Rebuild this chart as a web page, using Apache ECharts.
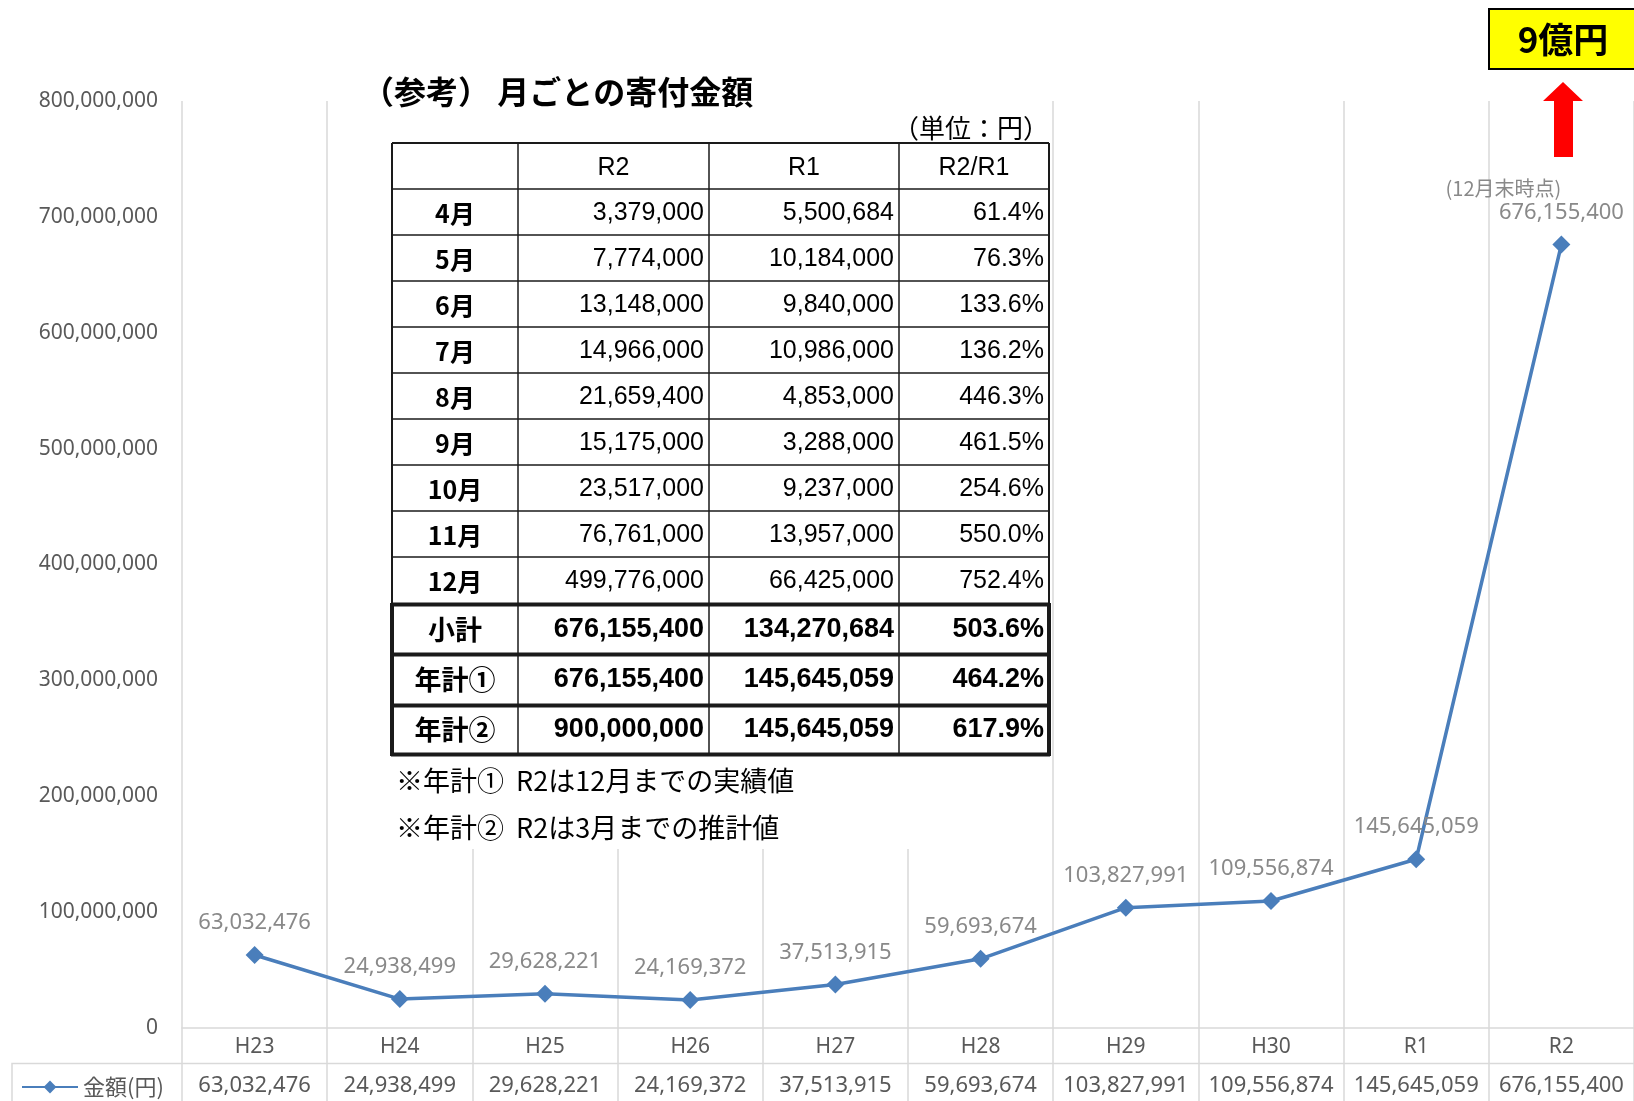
<!DOCTYPE html>
<html lang="ja">
<head>
<meta charset="utf-8">
<title>寄付金額の推移</title>
<script src="https://cdn.jsdelivr.net/npm/echarts@6/dist/echarts.min.js"></script>
<style>
  html, body { margin: 0; padding: 0; background: #fff; }
  #chart { width: 1634px; height: 1101px; }
</style>
</head>
<body>
<div id="chart"></div>
<script>
// 年度ごとの寄付金額（円）
const years = ["H23", "H24", "H25", "H26", "H27", "H28", "H29", "H30", "R1", "R2"];
const amounts = [63032476, 24938499, 29628221, 24169372, 37513915, 59693674, 103827991, 109556874, 145645059, 676155400];
const seriesName = "金額(円)";
const lastNote = "(12月末時点)";
const yMin = 0;
const yMax = 800000000;
const yStep = 100000000;

// （参考）月ごとの寄付金額
const tableTitle = "（参考） 月ごとの寄付金額";
const tableUnit = "（単位：円）";
const tableHeaders = ["", "R2", "R1", "R2/R1"];
const months = ["4月", "5月", "6月", "7月", "8月", "9月", "10月", "11月", "12月"];
const r2Monthly = [3379000, 7774000, 13148000, 14966000, 21659400, 15175000, 23517000, 76761000, 499776000];
const r1Monthly = [5500684, 10184000, 9840000, 10986000, 4853000, 3288000, 9237000, 13957000, 66425000];
const monthlyRatio = ["61.4%", "76.3%", "133.6%", "136.2%", "446.3%", "461.5%", "254.6%", "550.0%", "752.4%"];
const totalLabels = ["小計", "年計①", "年計②"];
const totalR2 = [676155400, 676155400, 900000000];
const totalR1 = [134270684, 145645059, 145645059];
const totalRatio = ["503.6%", "464.2%", "617.9%"];
const tableNotes = ["※年計①  R2は12月までの実績値", "※年計②  R2は3月までの推計値"];
const targetLabel = "9億円";

const fmt = (v) => v.toLocaleString("en-US");

const GRAY_GRID = "#d9d9d9";
const AXIS_TEXT = "#595959";
const LABEL_TEXT = "#898989";
const LINE_BLUE = "#4a7ebb";
const JP = "'Noto Sans CJK JP', 'Noto Sans', sans-serif";
const NUM = "'Liberation Sans', Arial, sans-serif";

function line(x1, y1, x2, y2, w) {
  return {
    type: "line", z: 100, silent: true,
    shape: { x1, y1, x2, y2 },
    style: { stroke: "#1a1a1a", lineWidth: w },
  };
}

function text(str, x, y, opts) {
  return {
    type: "text", z: 101, silent: true, x, y,
    style: Object.assign({
      text: str, fill: "#000", fontSize: 25, fontFamily: NUM,
      align: "center", verticalAlign: "middle",
    }, opts),
  };
}

// 参考表（グラフの上に重ねる白地の表）
function buildTable() {
  const cols = [392, 518, 709, 899, 1049];
  const top = 143;
  const headBottom = 189;
  const rowH = 46;
  const monthEnd = headBottom + rowH * months.length;
  const totalLines = [monthEnd + 1.5, 654.5, 705.5, 754.5];
  const els = [];

  els.push({
    type: "rect", z: 99, silent: true,
    shape: { x: 360, y: 60, width: 691, height: 789 },
    style: { fill: "#fff" },
  });

  els.push(text(tableTitle, 362, 92, { fontSize: 32, fontWeight: "bold", fontFamily: JP, align: "left" }));
  els.push(text(tableUnit, 1049, 128, { fontSize: 26, fontFamily: JP, align: "right" }));

  // 罫線
  els.push(line(cols[0], top, cols[4], top, 2));
  for (let i = 0; i < months.length; i++) {
    els.push(line(cols[0], headBottom + rowH * i, cols[4], headBottom + rowH * i, 1.5));
  }
  totalLines.forEach((y) => els.push(line(cols[0] - 1, y, cols[4] + 1, y, 4)));
  [cols[0], cols[4]].forEach((x) => {
    els.push(line(x, top, x, monthEnd, 2));
    els.push(line(x, monthEnd, x, 756, 4));
  });
  for (let c = 1; c < 4; c++) els.push(line(cols[c], top, cols[c], 754, 1.5));

  const cx = (c) => (cols[c] + cols[c + 1]) / 2;
  const rx = (c) => cols[c + 1] - 5;

  tableHeaders.forEach((h, c) => {
    if (h) els.push(text(h, cx(c), (top + headBottom) / 2 + 2));
  });

  months.forEach((m, i) => {
    const y = headBottom + rowH * i + rowH / 2 + 1;
    els.push(text(m, cx(0), y, { fontFamily: JP, fontSize: 25, fontWeight: "bold" }));
    els.push(text(fmt(r2Monthly[i]), rx(1), y, { align: "right" }));
    els.push(text(fmt(r1Monthly[i]), rx(2), y, { align: "right" }));
    els.push(text(monthlyRatio[i], rx(3), y, { align: "right" }));
  });

  totalLabels.forEach((lab, i) => {
    const y = (totalLines[i] + totalLines[i + 1]) / 2;
    const bold = { align: "right", fontWeight: "bold", fontSize: 27 };
    els.push(text(lab, cx(0), y, { fontFamily: JP, fontSize: 27, fontWeight: "bold" }));
    els.push(text(fmt(totalR2[i]), rx(1), y, bold));
    els.push(text(fmt(totalR1[i]), rx(2), y, bold));
    els.push(text(totalRatio[i], rx(3), y, bold));
  });

  tableNotes.forEach((n, i) => {
    els.push(text(n, 396, 781 + 47 * i, { fontFamily: JP, fontSize: 27, align: "left" }));
  });

  return els;
}

// 右上の「9億円」と矢印
function buildTarget() {
  return [
    {
      type: "rect", z: 100, silent: true,
      shape: { x: 1489, y: 9, width: 160, height: 60 },
      style: { fill: "#ffff00", stroke: "#000", lineWidth: 2 },
    },
    text(targetLabel, 1563, 40, { fontFamily: JP, fontSize: 35, fontWeight: "bold" }),
    {
      type: "polygon", z: 100, silent: true,
      shape: { points: [[1563, 82], [1583, 101], [1573, 101], [1573, 157], [1554, 157], [1554, 101], [1543, 101]] },
      style: { fill: "#ff0000" },
    },
    // データ表の左端の罫線
    {
      type: "polyline", z: 5, silent: true,
      shape: { points: [[12, 1101], [12, 1063.5], [1634, 1063.5]] },
      style: { stroke: GRAY_GRID, lineWidth: 1.5, fill: null },
    },
  ];
}

const chart = echarts.init(document.getElementById("chart"));

chart.setOption({
  animation: false,
  backgroundColor: "#fff",
  textStyle: { fontFamily: "'Noto Sans', sans-serif" },
  legend: {
    data: [seriesName],
    left: 16,
    top: 1071,
    itemWidth: 56,
    itemHeight: 16,
    textStyle: { fontSize: 22, color: AXIS_TEXT, fontFamily: JP },
  },
  grid: [
    { left: 182, right: 0, top: 101, height: 927 },
    { left: 182, right: 0, top: 1028, height: 73 },
  ],
  xAxis: [
    {
      type: "category",
      data: years,
      gridIndex: 0,
      boundaryGap: true,
      axisLine: { lineStyle: { color: GRAY_GRID, width: 1.5 } },
      axisTick: { show: false },
      splitLine: { show: true, lineStyle: { color: GRAY_GRID, width: 1.5 } },
      axisLabel: {
        interval: 0,
        margin: 2,
        formatter: (v, i) => `{c|${v}}\n{d|${fmt(amounts[i])}}`,
        rich: {
          c: { fontSize: 21, color: AXIS_TEXT, lineHeight: 34, fontFamily: "'Noto Sans', sans-serif" },
          d: { fontSize: 22, color: AXIS_TEXT, lineHeight: 44, fontFamily: "'Noto Sans', sans-serif" },
        },
      },
    },
    {
      type: "category",
      data: years,
      gridIndex: 1,
      boundaryGap: true,
      axisLine: { show: false },
      axisTick: { show: false },
      axisLabel: { show: false },
      splitLine: { show: true, lineStyle: { color: GRAY_GRID, width: 1.5 } },
    },
  ],
  yAxis: [
    {
      type: "value",
      gridIndex: 0,
      min: yMin,
      max: yMax,
      interval: yStep,
      axisLine: { show: false },
      axisTick: { show: false },
      splitLine: { show: false },
      axisLabel: {
        margin: 24,
        fontSize: 21,
        color: AXIS_TEXT,
        formatter: (v) => fmt(v),
      },
    },
    { type: "value", gridIndex: 1, show: false },
  ],
  series: [
    {
      name: seriesName,
      type: "line",
      xAxisIndex: 0,
      yAxisIndex: 0,
      data: amounts,
      symbol: "diamond",
      symbolSize: 18,
      color: LINE_BLUE,
      lineStyle: { width: 3.5, color: LINE_BLUE },
      itemStyle: { color: LINE_BLUE },
      label: {
        show: true,
        position: "top",
        distance: 11,
        formatter: (p) =>
          p.dataIndex === amounts.length - 1
            ? `{n|${lastNote}}\n{v|${fmt(p.value)}}`
            : `{v|${fmt(p.value)}}`,
        rich: {
          n: { fontSize: 20, color: LABEL_TEXT, lineHeight: 24, fontFamily: JP, padding: [0, 116, 0, 0] },
          v: { fontSize: 22, color: LABEL_TEXT, lineHeight: 24 },
        },
      },
    },
  ],
  graphic: { elements: buildTable().concat(buildTarget()) },
});
</script>
</body>
</html>
